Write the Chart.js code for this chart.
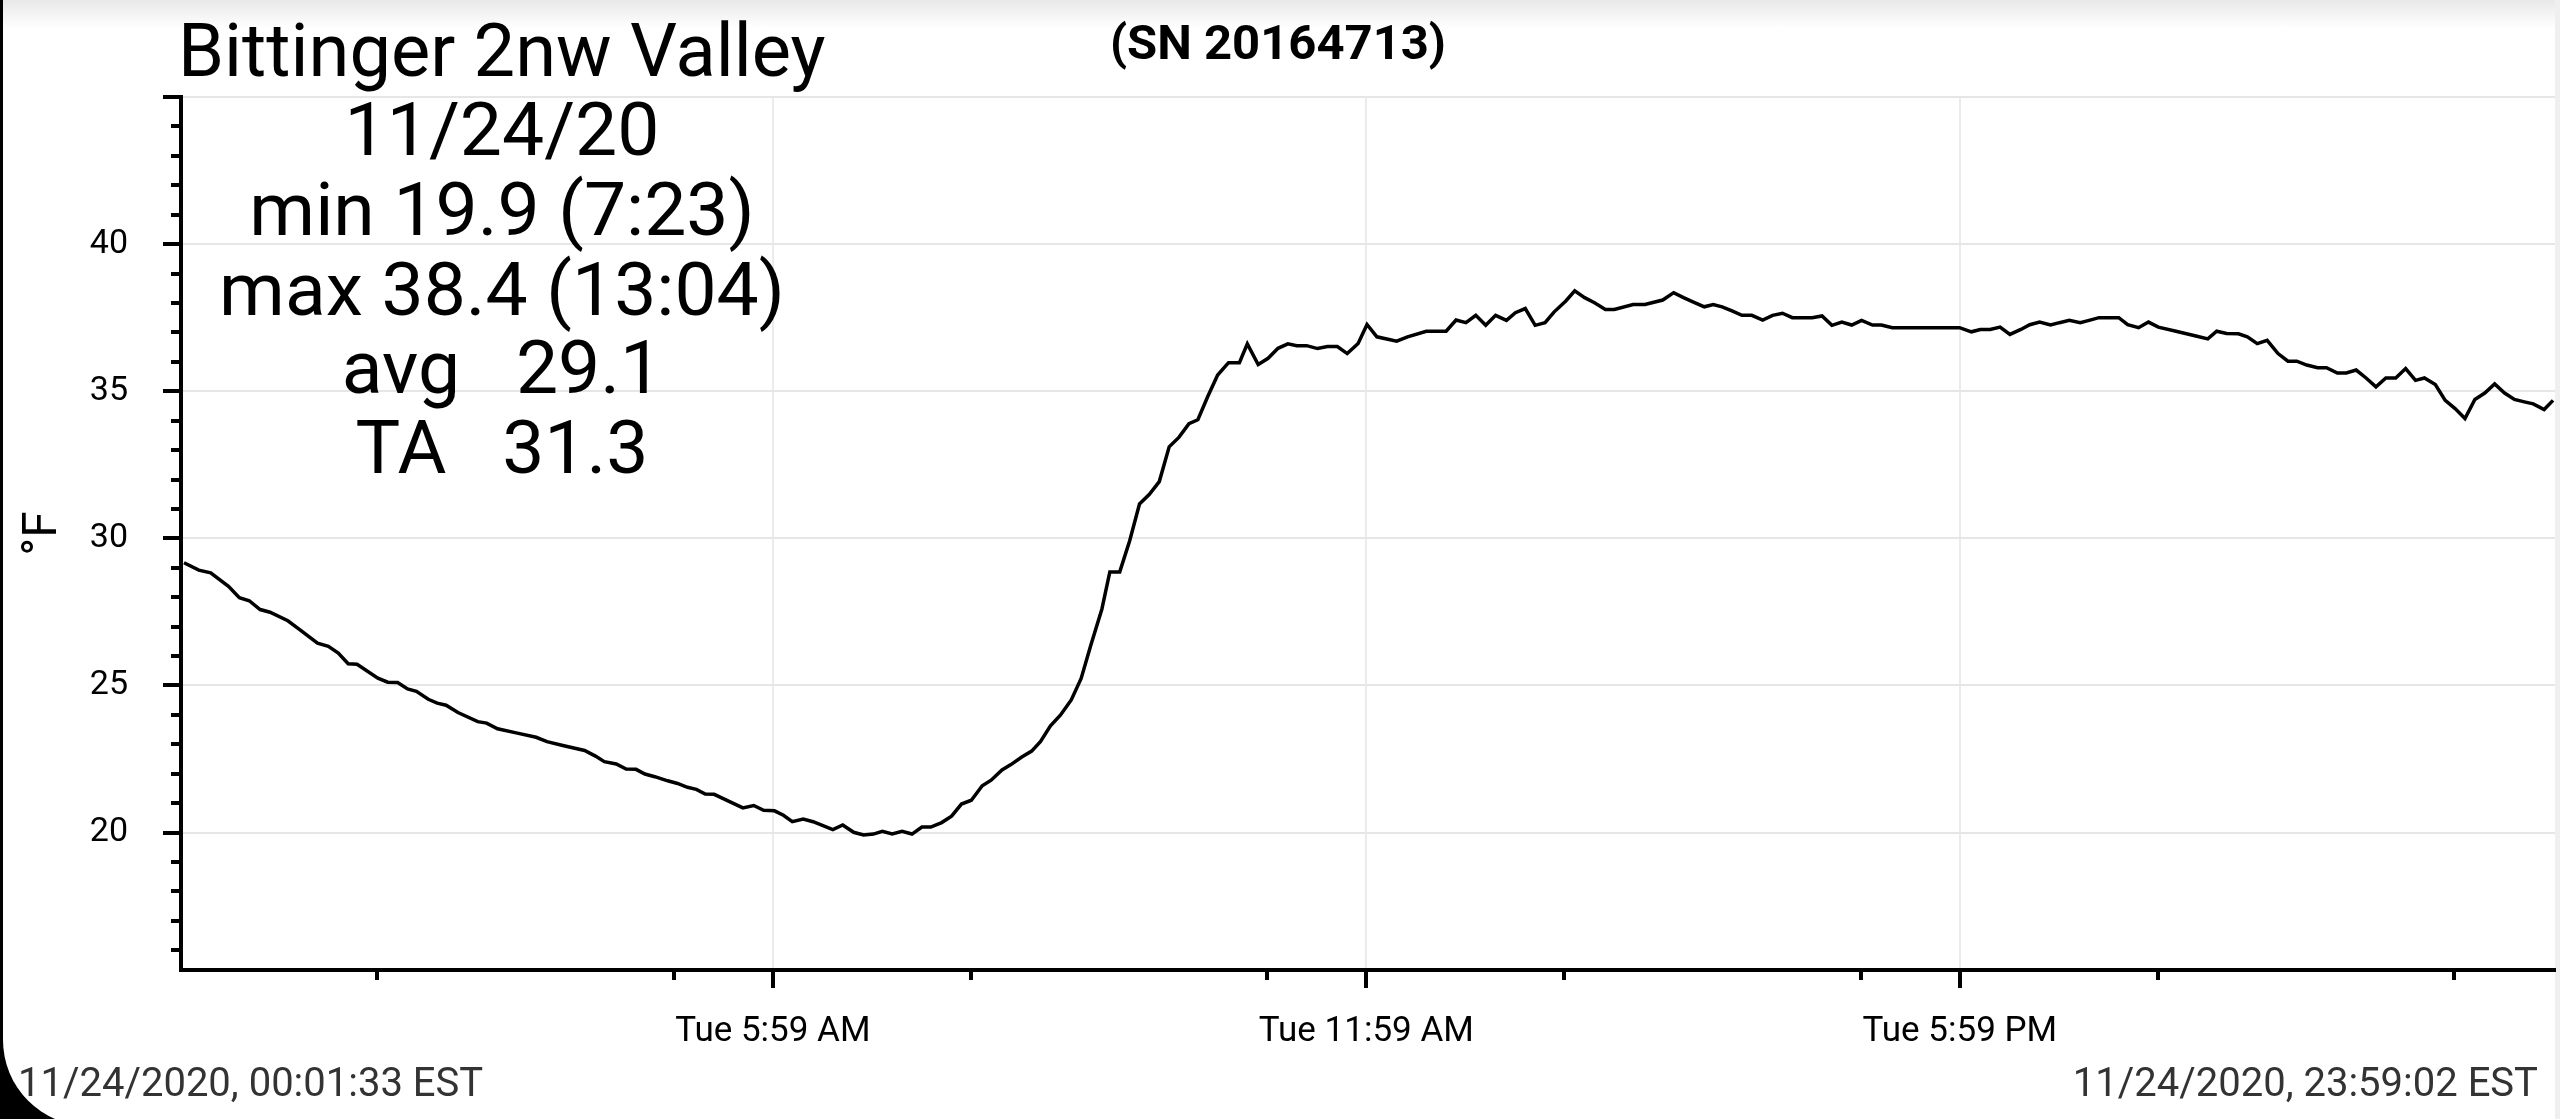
<!DOCTYPE html>
<html><head><meta charset="utf-8">
<script src="https://cdn.jsdelivr.net/npm/chart.js@4.4.0/dist/chart.umd.min.js"></script>
<style>
html,body{margin:0;padding:0;background:#000;width:2560px;height:1119px;overflow:hidden;font-family:Roboto,sans-serif;}
#card{position:absolute;left:3px;top:0;width:2557px;height:1126px;background:#fff;border-bottom-left-radius:86px;}
#topband{position:absolute;left:3px;top:0;width:2557px;height:28px;background:linear-gradient(#e8e8e8,rgba(255,255,255,0));}
#rstrip{position:absolute;left:2555px;top:0;width:5px;height:1119px;background:#efefef;}
canvas{position:absolute;left:0;top:0;}
.t{position:absolute;line-height:1;white-space:pre;color:#000;font-family:Roboto,sans-serif;}
.stat{left:52px;width:900px;text-align:center;font-size:75px;}
.ts{font-size:40px;color:#333;top:1063px;}
</style></head><body>
<div id="card"></div><div id="topband"></div><div id="rstrip"></div>
<canvas id="c" width="2560" height="1119" style="width:2560px;height:1119px"></canvas>
<div class="t" style="left:178px;top:14px;font-size:74px;">Bittinger 2nw Valley</div>
<div class="t" style="left:1078px;width:400px;text-align:center;top:18px;font-size:49px;font-weight:700;">(SN 20164713)</div>
<div class="t stat" style="top:92px;">11/24/20</div>
<div class="t stat" style="top:172px;">min 19.9 (7:23)</div>
<div class="t stat" style="top:252px;">max 38.4 (13:04)</div>
<div class="t stat" style="top:330px;">avg   29.1</div>
<div class="t stat" style="top:410px;">TA   31.3</div>
<div class="t ts" style="left:18px;">11/24/2020, 00:01:33 EST</div>
<div class="t ts" style="right:22px;">11/24/2020, 23:59:02 EST</div>
<script>
// time of day in hours
const hours = [
0.03,0.18,0.30,0.48,0.59,0.69,0.80,0.90,1.08,1.20,1.38,1.49,1.59,1.69,1.78,1.99,2.09,2.19,2.29,2.38,
2.50,2.59,2.68,2.80,3.00,3.09,3.20,3.40,3.59,3.70,3.86,4.08,4.19,4.28,4.40,4.50,4.60,4.69,4.79,4.92,
5.02,5.12,5.21,5.30,5.39,5.53,5.68,5.79,5.89,6.00,6.09,6.18,6.29,6.39,
6.59,6.69,6.80,6.90,7.00,7.09,7.19,7.29,7.39,7.49,7.58,7.69,7.79,7.89,7.99,8.10,8.19,8.30,8.39,8.50,
8.60,8.69,8.79,8.89,9.00,9.10,9.20,9.31,9.39,9.49,9.59,9.69,9.79,9.89,9.99,10.09,10.19,10.28,10.38,10.48,
10.59,10.70,10.78,10.89,10.99,11.09,11.19,11.28,11.38,11.49,11.59,11.69,11.79,
11.90,11.99,12.09,12.29,12.40,12.59,12.79,12.89,12.99,13.09,13.19,13.29,13.40,13.49,13.59,13.69,13.79,13.88,
14.00,14.09,14.19,14.29,14.40,14.49,14.68,14.80,14.98,15.09,15.19,15.29,15.40,15.49,15.58,15.68,15.78,15.88,
15.99,16.09,16.19,16.29,16.49,16.59,16.69,16.79,16.89,16.99,17.10,17.19,17.30,17.98,
18.10,18.19,18.29,18.39,18.49,18.60,18.69,18.79,18.90,18.99,19.09,19.20,19.29,19.39,19.59,19.68,19.79,19.89,
19.99,20.19,20.38,20.49,20.58,20.68,20.80,20.89,20.99,21.09,21.20,21.30,21.39,21.49,21.60,21.69,21.80,21.89,
21.99,22.09,22.19,22.29,22.39,22.49,22.59,22.68,22.79,22.89,22.99,23.09,23.19,23.29,23.39,23.49,23.59,23.69,
23.78,23.89,23.98
];
// temperature in °F
const temps = [
29.17,28.92,28.83,28.37,27.98,27.88,27.58,27.49,27.20,26.90,26.44,26.33,26.10,25.74,25.72,25.25,25.11,25.10,24.88,24.80,
24.53,24.40,24.33,24.08,23.77,23.72,23.53,23.38,23.24,23.09,22.96,22.79,22.60,22.41,22.33,22.16,22.15,21.99,21.90,21.76,
21.67,21.54,21.47,21.31,21.30,21.08,20.84,20.92,20.76,20.74,20.59,20.37,20.46,20.37,
20.10,20.26,20.01,19.92,19.95,20.04,19.95,20.04,19.95,20.19,20.19,20.34,20.56,20.97,21.10,21.59,21.78,22.13,22.31,22.57,
22.77,23.10,23.63,23.99,24.51,25.24,26.39,27.60,28.86,28.86,29.91,31.17,31.50,31.93,33.11,33.44,33.90,34.03,34.82,35.55,
35.97,35.97,36.61,35.91,36.12,36.46,36.61,36.55,36.55,36.45,36.52,36.52,36.28,
36.62,37.27,36.85,36.70,36.85,37.04,37.04,37.42,37.33,37.58,37.24,37.58,37.41,37.67,37.81,37.24,37.33,37.69,
38.07,38.41,38.18,38.01,37.78,37.78,37.95,37.95,38.10,38.35,38.18,38.03,37.87,37.95,37.87,37.73,37.58,37.58,
37.42,37.58,37.65,37.50,37.50,37.56,37.24,37.35,37.25,37.41,37.25,37.25,37.16,37.16,
37.02,37.10,37.10,37.18,36.93,37.10,37.26,37.35,37.25,37.33,37.41,37.33,37.41,37.50,37.50,37.26,37.16,37.35,
37.18,37.02,36.87,36.78,37.04,36.96,36.95,36.85,36.62,36.73,36.28,36.02,36.02,35.89,35.80,35.80,35.62,35.62,
35.72,35.45,35.15,35.45,35.45,35.77,35.37,35.45,35.23,34.69,34.41,34.07,34.72,34.94,35.25,34.94,34.72,34.64,
34.57,34.38,34.69
];
const xMajorTickHours = [5.983, 11.983, 17.983];
const xTickLabels = ['Tue 5:59 AM', 'Tue 11:59 AM', 'Tue 5:59 PM'];
const xMinorTickHours = [1.983, 4.983, 7.983, 10.983, 13.983, 16.983, 19.983, 22.983];
const yTickValues = [16,17,18,19,20,21,22,23,24,25,26,27,28,29,30,31,32,33,34,35,36,37,38,39,40,41,42,43,44,45];
const yLabelValues = [20, 25, 30, 35, 40];
const yGridValues = [20, 25, 30, 35, 40, 45];

const isMajorX = v => xMajorTickHours.some(m => Math.abs(m - v) < 1e-6);

const tickMarks = {
  id: 'tickMarks',
  afterDraw(chart) {
    const ctx = chart.ctx, xs = chart.scales.x, ys = chart.scales.y, a = chart.chartArea;
    ctx.save();
    ctx.strokeStyle = '#000';
    ctx.lineWidth = 4;
    ctx.beginPath();
    ys.ticks.forEach(t => {
      const py = Math.round(ys.getPixelForValue(t.value));
      const len = yGridValues.includes(t.value) ? 18 : 10;
      ctx.moveTo(a.left, py); ctx.lineTo(a.left - len, py);
    });
    xs.ticks.forEach(t => {
      const px = Math.round(xs.getPixelForValue(t.value));
      const len = isMajorX(t.value) ? 18 : 10;
      ctx.moveTo(px, a.bottom); ctx.lineTo(px, a.bottom + len);
    });
    ctx.stroke();
    ctx.restore();
  }
};

new Chart(document.getElementById('c'), {
  type: 'line',
  data: {
    datasets: [{
      data: hours.map((h, i) => ({x: h, y: temps[i]})),
      borderColor: '#000',
      borderWidth: 3.5,
      pointRadius: 0,
      tension: 0,
      fill: false
    }]
  },
  plugins: [tickMarks],
  options: {
    responsive: false,
    devicePixelRatio: 1,
    animation: false,
    layout: {padding: {left: 0, top: 97, right: 5, bottom: 0}},
    plugins: {legend: {display: false}, title: {display: false}, tooltip: {enabled: false}},
    scales: {
      x: {
        type: 'linear',
        min: 0,
        max: 24,
        afterBuildTicks(scale) {
          scale.ticks = xMinorTickHours.concat(xMajorTickHours).sort((p, q) => p - q).map(v => ({value: v}));
        },
        afterFit(scale) { scale.height = 149; },
        ticks: {
          autoSkip: false,
          maxRotation: 0,
          padding: 41,
          color: '#000',
          font: {family: 'Roboto', size: 35},
          callback(v) { const i = xMajorTickHours.findIndex(m => Math.abs(m - v) < 1e-6); return i >= 0 ? xTickLabels[i] : ''; }
        },
        grid: {
          drawTicks: false,
          lineWidth: 2,
          color: c => (c.tick && isMajorX(c.tick.value)) ? '#ebebeb' : 'rgba(0,0,0,0)'
        },
        border: {display: true, color: '#000', width: 4}
      },
      y: {
        type: 'linear',
        min: 15.33,
        max: 45,
        afterBuildTicks(scale) { scale.ticks = yTickValues.map(v => ({value: v})); },
        afterFit(scale) { scale.width = 181; },
        title: {display: true, text: '°F', color: '#000', font: {family: 'Roboto', size: 48}, padding: {top: 15, bottom: 0}},
        ticks: {
          autoSkip: false,
          padding: 53,
          color: '#000',
          font: {family: 'Roboto', size: 34},
          callback(v) { return yLabelValues.includes(v) ? String(v) : ''; }
        },
        grid: {
          drawTicks: false,
          lineWidth: 2,
          color: c => (c.tick && yGridValues.includes(c.tick.value)) ? '#e6e6e6' : 'rgba(0,0,0,0)'
        },
        border: {display: true, color: '#000', width: 4}
      }
    }
  }
});
</script>
</body></html>
